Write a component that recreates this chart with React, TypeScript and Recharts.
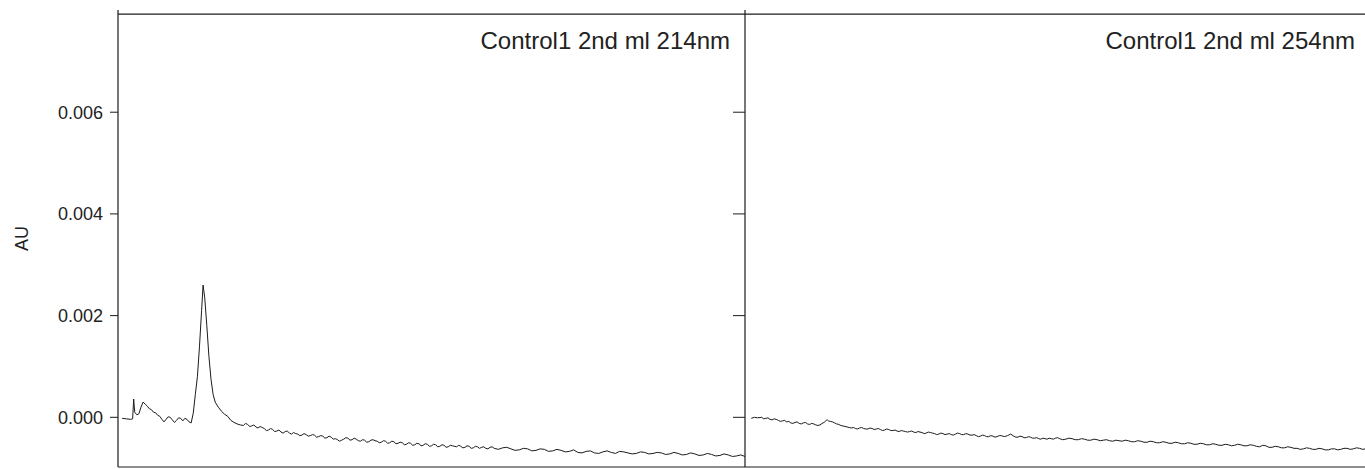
import React from 'react';
import { LineChart, Line, XAxis, YAxis, ReferenceLine } from 'recharts';

// retention time (min), absorbance (AU)
const trace214: [number, number][] = [
  [0.2, -0.00002], [0.4, -0.00003], [0.6, -0.00004], [0.7, -0.00003], [0.75, 0.00036],
  [0.8, 0.0001], [0.9, 0.00005], [1.0, 0.00007], [1.1, 0.0002], [1.2, 0.0003],
  [1.3, 0.00026], [1.4, 0.00022], [1.5, 0.00017], [1.6, 0.00015], [1.7, 0.0001],
  [1.8, 0.00009], [1.9, 0.00004], [2.0, 0.00002], [2.1, -0.00004], [2.2, -0.00009],
  [2.3, -0.00004], [2.4, 0.00001], [2.5, 0.0], [2.6, -0.00005], [2.7, -0.0001],
  [2.8, -0.00006], [2.9, -0.00001], [3.0, -0.00002], [3.1, -0.00007], [3.2, -0.00002],
  [3.3, -0.00004], [3.4, -0.00009], [3.5, -0.00011], [3.6, 0.00008], [3.7, 0.00045],
  [3.8, 0.0008], [3.9, 0.0014], [4.0, 0.0021], [4.07, 0.0026], [4.15, 0.00235],
  [4.25, 0.0018], [4.35, 0.0012], [4.45, 0.00075], [4.55, 0.00045], [4.65, 0.0003],
  [4.8, 0.0002], [4.95, 0.00012], [5.1, 0.00006], [5.25, 0.00002], [5.4, -0.00006],
  [5.55, -0.0001], [5.7, -0.00013], [5.85, -0.00015], [6.0, -0.00016], [6.1, -0.00012],
  [6.2, -0.00014], [6.3, -0.00018], [6.4, -0.00017], [6.5, -0.00015], [6.6, -0.00019],
  [6.7, -0.00021], [6.8, -0.00018], [6.9, -0.0002], [7.0, -0.00022], [7.1, -0.00026],
  [7.2, -0.00025], [7.3, -0.00022], [7.4, -0.00024], [7.5, -0.00028], [7.6, -0.00027],
  [7.7, -0.00025], [7.8, -0.00029], [7.9, -0.00031], [8.0, -0.00028], [8.1, -0.00027],
  [8.2, -0.00031], [8.3, -0.00033], [8.4, -0.0003], [8.5, -0.00032], [8.6, -0.00033],
  [8.7, -0.00036], [8.8, -0.00035], [8.9, -0.00032], [9.0, -0.00034], [9.1, -0.00037],
  [9.2, -0.00036], [9.3, -0.00034], [9.4, -0.00035], [9.5, -0.00039], [9.6, -0.00038],
  [9.7, -0.00036], [9.8, -0.00037], [9.9, -0.00041], [10.0, -0.0004], [10.1, -0.00037],
  [10.2, -0.00039], [10.3, -0.00043], [10.4, -0.00042], [10.5, -0.00044], [10.6, -0.00047],
  [10.7, -0.00045], [10.8, -0.00043], [10.9, -0.0004], [11.0, -0.00041], [11.1, -0.00045],
  [11.2, -0.00044], [11.3, -0.00041], [11.4, -0.00043], [11.5, -0.00046], [11.6, -0.00047],
  [11.7, -0.00044], [11.8, -0.00045], [11.9, -0.00049], [12.0, -0.00048], [12.1, -0.00045],
  [12.2, -0.00044], [12.3, -0.00046], [12.4, -0.00047], [12.5, -0.0005], [12.6, -0.00049],
  [12.7, -0.00046], [12.8, -0.00047], [12.9, -0.00051], [13.0, -0.0005], [13.1, -0.00047],
  [13.2, -0.00048], [13.3, -0.00052], [13.4, -0.00051], [13.5, -0.00049], [13.6, -0.0005],
  [13.7, -0.00054], [13.8, -0.00053], [13.9, -0.0005], [14.0, -0.00051], [14.1, -0.00055],
  [14.2, -0.00054], [14.3, -0.00051], [14.4, -0.00052], [14.5, -0.00056], [14.6, -0.00055],
  [14.7, -0.00052], [14.8, -0.00053], [14.9, -0.00057], [15.0, -0.00056], [15.1, -0.00053],
  [15.2, -0.00054], [15.3, -0.00058], [15.4, -0.00057], [15.5, -0.00054], [15.6, -0.00055],
  [15.7, -0.00059], [15.8, -0.00058], [15.9, -0.00055], [16.0, -0.00056], [16.2, -0.00058],
  [16.3, -0.00055], [16.4, -0.00057], [16.5, -0.0006], [16.6, -0.00059], [16.7, -0.00056],
  [16.8, -0.00057], [16.9, -0.00061], [17.0, -0.0006], [17.1, -0.00057], [17.2, -0.00058],
  [17.3, -0.00061], [17.4, -0.00059], [17.5, -0.00058], [17.6, -0.00061], [17.7, -0.00062],
  [17.8, -0.00059], [17.9, -0.00058], [18.0, -0.00061], [18.2, -0.00063], [18.4, -0.0006],
  [18.6, -0.00059], [18.8, -0.00062], [19.0, -0.00065], [19.2, -0.00064], [19.4, -0.00061],
  [19.6, -0.00062], [19.8, -0.00066], [20.0, -0.00065], [20.2, -0.00062], [20.4, -0.00063],
  [20.6, -0.00067], [20.8, -0.00066], [21.0, -0.00063], [21.2, -0.00065], [21.4, -0.00068],
  [21.6, -0.00067], [21.8, -0.00064], [22.0, -0.00069], [22.2, -0.0007], [22.4, -0.00067],
  [22.6, -0.00066], [22.8, -0.0007], [23.0, -0.00071], [23.2, -0.00068], [23.4, -0.00066],
  [23.6, -0.00069], [23.8, -0.00071], [24.0, -0.00067], [24.2, -0.00068], [24.4, -0.0007],
  [24.6, -0.00072], [24.8, -0.00071], [25.0, -0.00068], [25.2, -0.00069], [25.4, -0.00072],
  [25.6, -0.00071], [25.8, -0.00069], [26.0, -0.0007], [26.2, -0.00073], [26.4, -0.00072],
  [26.6, -0.00069], [26.8, -0.00071], [27.0, -0.00074], [27.2, -0.00073], [27.4, -0.0007],
  [27.6, -0.00072], [27.8, -0.00075], [28.0, -0.00074], [28.2, -0.00071], [28.4, -0.00073],
  [28.6, -0.00076], [28.8, -0.00075], [29.0, -0.00072], [29.2, -0.00074], [29.4, -0.00077],
  [29.6, -0.00076], [29.8, -0.00074], [30.0, -0.00077],
];

// same run, 254 nm channel
const trace254: [number, number][] = [
  [0.3, -0.00002], [0.45, 0.0], [0.6, -0.00001], [0.8, 0.0], [0.9, -0.00003],
  [1.0, -0.00002], [1.1, -0.00001], [1.2, -0.00004], [1.3, -0.00005], [1.4, -0.00003],
  [1.5, -0.00004], [1.6, -0.00006], [1.7, -0.00008], [1.8, -0.00007], [1.9, -0.00006],
  [2.0, -0.00009], [2.1, -0.00008], [2.2, -0.00011], [2.3, -0.00012], [2.4, -0.0001],
  [2.5, -0.00009], [2.6, -0.00012], [2.7, -0.00013], [2.8, -0.00011], [2.9, -0.0001],
  [3.0, -0.00013], [3.1, -0.00014], [3.2, -0.00012], [3.3, -0.00013], [3.4, -0.00015],
  [3.5, -0.00016], [3.6, -0.00015], [3.7, -0.00012], [3.8, -0.0001], [3.9, -0.00006],
  [3.95, -0.00005], [4.0, -0.00007], [4.1, -0.00008], [4.2, -0.00009], [4.3, -0.00011],
  [4.4, -0.00013], [4.5, -0.00014], [4.6, -0.00016], [4.7, -0.00017], [4.8, -0.00018],
  [4.9, -0.00019], [5.0, -0.0002], [5.1, -0.00021], [5.2, -0.0002], [5.3, -0.00022],
  [5.4, -0.00023], [5.5, -0.00021], [5.6, -0.0002], [5.7, -0.00022], [5.8, -0.00023],
  [5.9, -0.00023], [6.0, -0.00021], [6.1, -0.00022], [6.2, -0.00024], [6.3, -0.00023],
  [6.4, -0.00022], [6.5, -0.00024], [6.6, -0.00026], [6.7, -0.00025], [6.8, -0.00023],
  [6.9, -0.00024], [7.0, -0.00026], [7.1, -0.00026], [7.2, -0.00025], [7.3, -0.00027],
  [7.4, -0.00028], [7.5, -0.00026], [7.6, -0.00027], [7.7, -0.00028], [7.8, -0.00029],
  [7.9, -0.00028], [8.0, -0.00027], [8.1, -0.00029], [8.2, -0.0003], [8.3, -0.00028],
  [8.4, -0.00029], [8.5, -0.0003], [8.6, -0.00032], [8.7, -0.00031], [8.8, -0.00029],
  [8.9, -0.0003], [9.0, -0.00031], [9.1, -0.00032], [9.2, -0.00034], [9.3, -0.00033],
  [9.4, -0.00031], [9.5, -0.00032], [9.6, -0.00034], [9.7, -0.00033], [9.8, -0.00032],
  [9.9, -0.00034], [10.0, -0.00035], [10.1, -0.00033], [10.2, -0.00031], [10.3, -0.00032],
  [10.4, -0.00034], [10.5, -0.00034], [10.6, -0.00032], [10.7, -0.00033], [10.8, -0.00035],
  [10.9, -0.00035], [11.0, -0.00034], [11.1, -0.00036], [11.2, -0.00038], [11.3, -0.00037],
  [11.4, -0.00035], [11.5, -0.00036], [11.6, -0.00038], [11.7, -0.00038], [11.8, -0.00036],
  [11.9, -0.00037], [12.0, -0.00039], [12.1, -0.00038], [12.2, -0.00036], [12.3, -0.00036],
  [12.45, -0.00038], [12.6, -0.00036], [12.75, -0.00033], [12.9, -0.00037], [13.0, -0.00039],
  [13.1, -0.00039], [13.2, -0.00037], [13.3, -0.00038], [13.4, -0.0004], [13.5, -0.0004],
  [13.6, -0.00038], [13.7, -0.00039], [13.8, -0.00041], [13.9, -0.00041], [14.0, -0.0004],
  [14.1, -0.00042], [14.2, -0.00043], [14.3, -0.00041], [14.4, -0.00042], [14.5, -0.00043],
  [14.6, -0.00041], [14.7, -0.00042], [14.8, -0.00043], [14.9, -0.00041], [15.0, -0.0004],
  [15.1, -0.00042], [15.25, -0.00044], [15.4, -0.00043], [15.55, -0.00041], [15.7, -0.00042],
  [15.85, -0.00044], [16.0, -0.00044], [16.15, -0.00042], [16.3, -0.00043], [16.45, -0.00045],
  [16.6, -0.00045], [16.75, -0.00043], [16.9, -0.00044], [17.05, -0.00046], [17.2, -0.00045],
  [17.35, -0.00044], [17.5, -0.00046], [17.65, -0.00047], [17.8, -0.00045], [17.95, -0.00046],
  [18.1, -0.00047], [18.25, -0.00045], [18.4, -0.00046], [18.55, -0.00048], [18.7, -0.00048],
  [18.85, -0.00046], [19.0, -0.00047], [19.15, -0.00049], [19.3, -0.00049], [19.45, -0.00047],
  [19.6, -0.00048], [19.75, -0.0005], [19.9, -0.0005], [20.05, -0.00048], [20.2, -0.00049],
  [20.35, -0.00051], [20.5, -0.00051], [20.65, -0.00049], [20.8, -0.0005], [20.95, -0.00052],
  [21.1, -0.00052], [21.25, -0.0005], [21.4, -0.00051], [21.55, -0.00053], [21.7, -0.00053],
  [21.85, -0.00051], [22.0, -0.00052], [22.15, -0.00054], [22.3, -0.00054], [22.45, -0.00052],
  [22.6, -0.00053], [22.75, -0.00055], [22.9, -0.00055], [23.05, -0.00053], [23.2, -0.00054],
  [23.35, -0.00056], [23.5, -0.00055], [23.65, -0.00053], [23.8, -0.00054], [23.95, -0.00056],
  [24.1, -0.00056], [24.25, -0.00054], [24.4, -0.00055], [24.55, -0.00057], [24.7, -0.00058],
  [24.85, -0.00055], [25.0, -0.00056], [25.15, -0.00059], [25.3, -0.00059], [25.45, -0.00057],
  [25.6, -0.00058], [25.75, -0.0006], [25.9, -0.0006], [26.05, -0.00058], [26.2, -0.00059],
  [26.35, -0.00061], [26.5, -0.00061], [26.65, -0.00063], [26.8, -0.00062], [26.95, -0.0006],
  [27.1, -0.00061], [27.25, -0.00063], [27.4, -0.00063], [27.55, -0.00061], [27.7, -0.00062],
  [27.85, -0.00064], [28.0, -0.00064], [28.15, -0.00062], [28.3, -0.00062], [28.45, -0.00064],
  [28.6, -0.00063], [28.75, -0.00061], [28.9, -0.00061], [29.05, -0.00063], [29.2, -0.00062],
  [29.35, -0.0006], [29.5, -0.00061], [29.65, -0.00063], [29.8, -0.00062], [30.0, -0.00062],
];

const auTicks = [0, 0.002, 0.004, 0.006];
const panelTitles = ['Control1 2nd ml 214nm', 'Control1 2nd ml 254nm'];
const timeDomain: [number, number] = [0, 30];
const auDomain: [number, number] = [-0.000977, 0.00801];
const frameTop = 0.00793;

const INK = '#1c1c1c';
const FONT = '"Liberation Sans", Arial, Helvetica, sans-serif';

const toRows = (trace: [number, number][]) => trace.map(([t, au]) => ({ t, au }));

const Panel = ({ data, title, first, left, width }: {
  data: { t: number; au: number }[];
  title: string;
  first: boolean;
  left: number;
  width: number;
}) => (
  <div style={{ position: 'absolute', left, top: 0 }}>
    <LineChart width={width} height={469} data={data} margin={{ top: 10, right: 0, bottom: 0, left: 0 }}>
      <XAxis
        dataKey="t"
        type="number"
        domain={timeDomain}
        allowDataOverflow
        height={2}
        tick={false}
        tickLine={false}
        axisLine={{ stroke: INK, strokeWidth: 1.2 }}
      />
      <YAxis
        type="number"
        domain={auDomain}
        allowDataOverflow
        ticks={auTicks}
        width={first ? 118 : 12}
        tickSize={first ? 8 : 12}
        tickMargin={first ? 7 : 0}
        tickFormatter={(v: number) => (first ? v.toFixed(3) : '')}
        tick={{ fontSize: 18, fill: '#222', fontFamily: FONT }}
        tickLine={{ stroke: INK }}
        axisLine={{ stroke: INK, strokeWidth: 1.2 }}
        label={first ? {
          value: 'AU',
          angle: -90,
          position: 'insideLeft',
          offset: 22,
          style: { fontSize: 18, fill: '#222', fontFamily: FONT, textAnchor: 'middle' },
        } : undefined}
      />
      <ReferenceLine
        y={frameTop}
        stroke={INK}
        strokeWidth={1.2}
        label={{
          value: title,
          position: 'insideTopRight',
          offset: 15,
          dy: 3,
          style: { fontSize: 24, fill: '#222', fontFamily: FONT },
        }}
      />
      <Line
        dataKey="au"
        type="linear"
        stroke={INK}
        strokeWidth={1}
        dot={false}
        isAnimationActive={false}
      />
    </LineChart>
  </div>
);

export default function App() {
  return (
    <div
      style={{
        position: 'absolute',
        left: 0,
        top: 0,
        width: 1365,
        height: 469,
        overflow: 'hidden',
        background: '#fff',
        fontFamily: FONT,
      }}
    >
      <Panel data={toRows(trace214)} title={panelTitles[0]} first left={0} width={745} />
      <Panel data={toRows(trace254)} title={panelTitles[1]} first={false} left={733} width={637} />
    </div>
  );
}
